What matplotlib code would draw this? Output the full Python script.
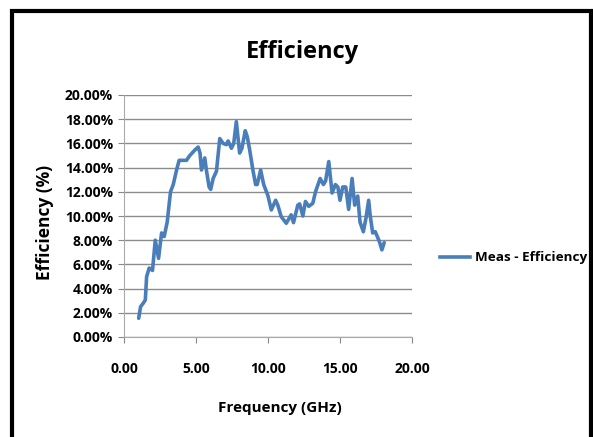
import matplotlib
matplotlib.use("Agg")
import matplotlib.pyplot as plt
from matplotlib.patches import Rectangle
from matplotlib.lines import Line2D

freq = [1.02, 1.15, 1.34, 1.48, 1.57, 1.75, 1.98, 2.17, 2.40, 2.61, 2.79, 3.00,
        3.23, 3.42, 3.65, 3.83, 4.00, 4.34, 4.57, 4.92, 5.15, 5.28, 5.38, 5.61,
        5.72, 5.91, 6.02, 6.19, 6.42, 6.65, 6.88, 7.11, 7.23, 7.46, 7.62, 7.80,
        8.03, 8.19, 8.42, 8.56, 8.73, 8.95, 9.14, 9.25, 9.49, 9.70, 9.99, 10.23,
        10.53, 10.68, 10.92, 11.27, 11.61, 11.77, 12.07, 12.20, 12.42, 12.60,
        12.83, 13.11, 13.30, 13.62, 13.85, 14.00, 14.22, 14.45, 14.68, 14.85,
        15.00, 15.19, 15.40, 15.60, 15.84, 16.02, 16.23, 16.39, 16.62, 16.80,
        16.99, 17.10, 17.27, 17.45, 17.73, 17.91, 18.07]
eff = [1.55, 2.5, 2.8, 3.06, 4.98, 5.7, 5.5, 8.0, 6.5, 8.6, 8.3, 9.5,
       12.0, 12.6, 13.8, 14.6, 14.6, 14.6, 15.0, 15.45, 15.7, 15.2, 13.8, 14.8,
       13.8, 12.4, 12.2, 13.1, 13.7, 16.4, 16.0, 15.9, 16.2, 15.6, 16.0, 17.8,
       15.2, 15.6, 17.05, 16.55, 15.45, 13.8, 12.6, 12.6, 13.8, 12.6, 11.7, 10.5,
       11.3, 10.9, 9.94, 9.4, 10.1, 9.45, 10.9, 11.0, 10.0, 11.2,
       10.8, 11.05, 12.0, 13.1, 12.6, 12.9, 14.5, 11.9, 12.6, 12.4,
       11.3, 12.4, 12.4, 10.55, 13.1, 10.9, 11.65, 9.5, 8.7, 9.8,
       11.3, 10.0, 8.6, 8.7, 7.9, 7.2, 7.8]

x_ticks = [0, 5, 10, 15, 20]
y_ticks = [0, 2, 4, 6, 8, 10, 12, 14, 16, 18, 20]

plt.rcParams['font.family'] = ['Open Sans', 'DejaVu Sans']

fig = plt.figure(figsize=(5.93, 4.37), dpi=100)
W, H = 593, 437

# outer chart border
fig.patches.append(Rectangle((12 / W, -0.05), (591 - 12) / W, (437 - 11) / H + 0.05,
                             transform=fig.transFigure, fill=False,
                             edgecolor='black', linewidth=3))

ax = fig.add_axes([124 / W, (437 - 337) / H, 288 / W, 242 / H])
ax.plot(freq, eff, color='#4A7EBB', linewidth=2.6,
        solid_joinstyle='round', solid_capstyle='round')

ax.set_xlim(0, 20)
ax.set_ylim(0, 20)
ax.set_xticks(x_ticks)
ax.set_xticklabels([f"{v:.2f}" for v in x_ticks])
ax.set_yticks(y_ticks)
ax.set_yticklabels([f"{v:.2f}%" for v in y_ticks])
ax.tick_params(labelsize=10, length=4, color='#888888', pad=4)
for lab in ax.get_xticklabels() + ax.get_yticklabels():
    lab.set_fontweight('bold')
ax.tick_params(axis='x', pad=14)

ax.yaxis.grid(True, color='#8c8c8c', linewidth=1)
ax.set_axisbelow(True)
for s in ['top', 'right']:
    ax.spines[s].set_visible(False)
for s in ['left', 'bottom']:
    ax.spines[s].set_color('#aaaaaa')

fig.text(303 / W, 1 - 52 / H, 'Efficiency', ha='center', va='center',
         fontsize=17, fontweight='bold')
fig.text(280 / W, 1 - 408 / H, 'Frequency (GHz)', ha='center', va='center',
         fontsize=11, fontweight='bold')
fig.text(45 / W, 1 - 222 / H, 'Efficiency (%)', ha='center', va='center',
         rotation=90, fontsize=12.5, fontweight='bold')

# legend
fig.lines.append(Line2D([440 / W, 470 / W], [1 - 257 / H, 1 - 257 / H],
                        transform=fig.transFigure, color='#4A7EBB', linewidth=2.6))
fig.text(475 / W, 1 - 257 / H, 'Meas - Efficiency', ha='left', va='center',
         fontsize=9.7, fontweight='bold')

fig.savefig('out.png', dpi=100)
